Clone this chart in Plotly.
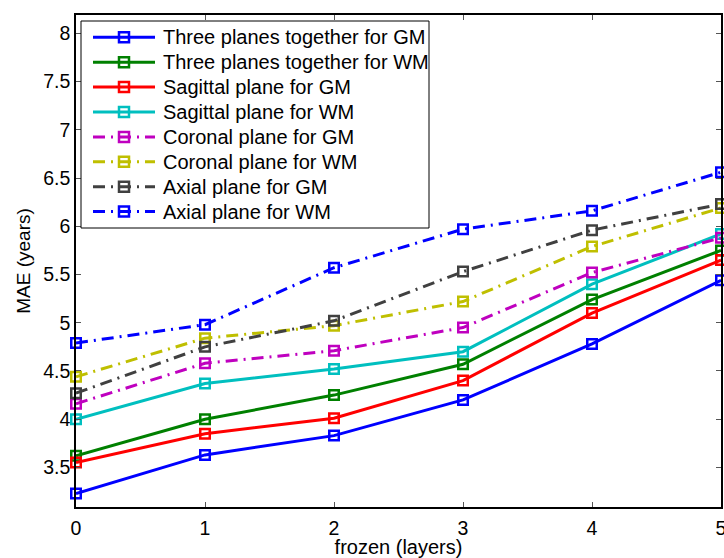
import plotly.graph_objects as go

# ---- data ----
frozen_layers = [0, 1, 2, 3, 4, 5]
three_gm = [3.23, 3.63, 3.83, 4.20, 4.78, 5.44]
three_wm = [3.62, 4.00, 4.25, 4.57, 5.24, 5.75]
sag_gm = [3.55, 3.85, 4.01, 4.40, 5.10, 5.65]
sag_wm = [4.00, 4.37, 4.52, 4.70, 5.40, 5.92]
cor_gm = [4.16, 4.58, 4.71, 4.95, 5.52, 5.88]
cor_wm = [4.44, 4.84, 4.97, 5.22, 5.79, 6.19]
ax_gm = [4.27, 4.75, 5.02, 5.53, 5.96, 6.23]
ax_wm = [4.79, 4.98, 5.57, 5.97, 6.16, 6.56]

series_names = [
    "Three planes together for GM",
    "Three planes together for WM",
    "Sagittal plane for GM",
    "Sagittal plane for WM",
    "Coronal plane for GM",
    "Coronal plane for WM",
    "Axial plane for GM",
    "Axial plane for WM",
]
series_values = [three_gm, three_wm, sag_gm, sag_wm, cor_gm, cor_wm, ax_gm, ax_wm]
colors = ["#0000FF", "#008000", "#FF0000", "#00BFBF",
          "#BF00BF", "#BFBF00", "#404040", "#0000FF"]
DASHDOT = "12px,6px,2px,6px"
dashes = ["solid", "solid", "solid", "solid", DASHDOT, DASHDOT, DASHDOT, DASHDOT]

FONT = "Liberation Sans, Arial, Helvetica, sans-serif"

# plot-area pixel frame
W, H = 724, 558
L, R, T, B = 76, 721, 15, 507


def px(x):
    return (x - L) / (R - L)


def py(y):
    return (B - y) / (B - T)


fig = go.Figure()
for name, vals, c, d in zip(series_names, series_values, colors, dashes):
    fig.add_trace(go.Scatter(
        x=frozen_layers, y=vals, name=name, mode="lines+markers",
        line=dict(color=c, width=3, dash=d),
        marker=dict(symbol="square-open", size=9.5, color=c, line=dict(width=2.5, color=c)),
        cliponaxis=False, showlegend=False,
    ))

# ---- legend box drawn as layout decorations ----
shapes = [dict(type="rect", xref="paper", yref="paper",
               x0=px(81), x1=px(429), y0=py(228), y1=py(21),
               line=dict(color="black", width=1), fillcolor="white", layer="above")]
annotations = []
row0, drow = 37.3, 24.9
for i, (name, c, d) in enumerate(zip(series_names, colors, dashes)):
    yc = row0 + i * drow
    shapes.append(dict(type="line", xref="paper", yref="paper",
                       x0=px(93), x1=px(155), y0=py(yc), y1=py(yc),
                       line=dict(color=c, width=3, dash=d), layer="above"))
    shapes.append(dict(type="rect", xref="paper", yref="paper",
                       x0=px(119), x1=px(129), y0=py(yc + 5), y1=py(yc - 5),
                       line=dict(color=c, width=2.5), fillcolor="rgba(0,0,0,0)", layer="above"))
    annotations.append(dict(text=name, xref="paper", yref="paper",
                            x=px(161), y=py(yc), xanchor="left", yanchor="middle",
                            showarrow=False, font=dict(family=FONT, size=20, color="black")))

fig.update_layout(
    width=W, height=H,
    margin=dict(l=L, r=W - R, t=T, b=H - B, autoexpand=False),
    paper_bgcolor="white", plot_bgcolor="white",
    font=dict(family=FONT, size=19, color="black"),
    shapes=shapes, annotations=annotations,
    showlegend=False,
)
fig.update_xaxes(
    range=[0, 5], tickvals=frozen_layers, ticks="inside", ticklen=5, tickwidth=1,
    tickcolor="#555", showline=True, linecolor="black", linewidth=1.5, mirror="ticks",
    showgrid=False, zeroline=False, tickfont=dict(size=19.5), automargin=False,
    ticklabelstandoff=3, ticklabeloverflow="allow",
    title=dict(text="frozen (layers)", font=dict(size=20), standoff=6),
)
fig.update_yaxes(
    range=[3.09, 8.19], tickvals=[3.5, 4, 4.5, 5, 5.5, 6, 6.5, 7, 7.5, 8],
    ticktext=["3.5", "4", "4.5", "5", "5.5", "6", "6.5", "7", "7.5", "8"],
    ticks="inside", ticklen=5, tickwidth=1, tickcolor="#555",
    showline=True, linecolor="black", linewidth=1.5, mirror="ticks",
    showgrid=False, zeroline=False, tickfont=dict(size=19.5), automargin=False,
    ticklabeloverflow="allow",
    title=dict(text="MAE (years)", font=dict(size=19), standoff=8),
)

fig.write_html("out.html", config={"displayModeBar": False},
               post_script="document.body.style.margin='0';document.body.style.overflow='hidden';")
